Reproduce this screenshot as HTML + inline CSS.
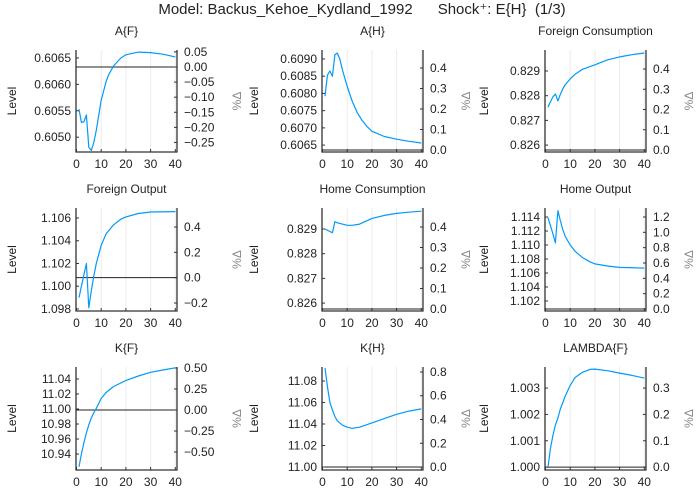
<!DOCTYPE html>
<html><head><meta charset="utf-8"><style>
html,body{margin:0;padding:0;background:#fff;}
svg{display:block;font-family:"Liberation Sans","DejaVu Sans",sans-serif;}
</style></head><body>
<svg id="chart" width="700" height="500" viewBox="0 0 700 500" xmlns="http://www.w3.org/2000/svg">
<text x="362" y="14" font-size="15" text-anchor="middle" fill="#222" style="white-space:pre" xml:space="preserve">Model: Backus_Kehoe_Kydland_1992      Shock⁺: E{H}  (1/3)</text>
</svg>
<script>
// ---- data arrays (period, level) ----
const aF_t = [1,2,3,4,5,6,7,8,10,12,13,15,18,20,25,30,35,40];
const aF_v = [0.60553,0.60528,0.60529,0.60542,0.60481,0.60475,0.60490,0.60513,0.60570,0.60605,0.60618,0.60635,0.60650,0.60656,0.60661,0.60660,0.60657,0.60652];
const aH_t = [1,2,3,4,5,6,7,8,9,10,12,14,16,18,20,25,30,35,40];
const aH_v = [0.60792,0.60853,0.60865,0.60850,0.60912,0.60917,0.60900,0.60870,0.60845,0.60820,0.60778,0.60745,0.60722,0.60704,0.60690,0.60675,0.60667,0.60661,0.60656];
const fc_t = [1,2,3,4,5,6,7,8,10,12,15,20,25,30,35,40];
const fc_v = [0.82754,0.82775,0.82795,0.82807,0.82779,0.82805,0.82828,0.82845,0.82868,0.82887,0.82907,0.82925,0.82945,0.82957,0.82966,0.82973];
const fo_t = [1,2,3,4,5,6,7,8,10,12,15,18,20,25,30,40];
const fo_v = [1.0990,1.1000,1.1010,1.1020,1.0981,1.0996,1.1009,1.1020,1.1036,1.1046,1.1054,1.1059,1.1061,1.1064,1.10653,1.10656];
const hc_t = [1,2,3,4,5,6,8,10,12,15,20,25,30,35,40];
const hc_v = [0.8290,0.82895,0.8289,0.82885,0.8293,0.82925,0.8292,0.82915,0.82915,0.8292,0.82943,0.82955,0.82963,0.82968,0.82972];
const ho_t = [1,2,3,4,5,6,7,8,10,12,15,18,20,25,30,40];
const ho_v = [1.1139,1.1128,1.1116,1.1103,1.1149,1.1135,1.1122,1.1112,1.1100,1.1091,1.1082,1.1076,1.1073,1.1070,1.1068,1.1067];
const kF_t = [1,2,3,4,5,6,7,8,10,12,15,20,25,30,35,40];
const kF_v = [10.923,10.940,10.955,10.968,10.979,10.988,10.995,11.001,11.014,11.022,11.030,11.038,11.044,11.049,11.052,11.055];
const kH_t = [1,2,3,4,5,6,8,10,12,15,20,25,30,35,40];
const kH_v = [11.092,11.075,11.060,11.053,11.047,11.043,11.039,11.037,11.036,11.037,11.041,11.045,11.049,11.052,11.054];
const lF_t = [1,2,3,4,5,6,8,10,12,15,18,20,25,30,35,40];
const lF_v = [1.0000,1.0007,1.0012,1.0016,1.00186,1.0022,1.0027,1.0031,1.0034,1.0036,1.00371,1.00372,1.00366,1.00357,1.00348,1.00338];
// ---- tick labels ----
const xTicks = [0,10,20,30,40];
const aF_lt = [0.6050,0.6055,0.6060,0.6065];
const aF_rt = [0.05,0,-0.05,-0.10,-0.15,-0.20,-0.25];
const aH_lt = [0.6065,0.6070,0.6075,0.6080,0.6085,0.6090];
const aH_rt = [0,0.1,0.2,0.3,0.4];
const fc_lt = [0.826,0.827,0.828,0.829];
const fc_rt = [0,0.1,0.2,0.3,0.4];
const fo_lt = [1.098,1.100,1.102,1.104,1.106];
const fo_rt = [-0.2,0,0.2,0.4];
const hc_lt = [0.826,0.827,0.828,0.829];
const hc_rt = [0,0.1,0.2,0.3,0.4];
const ho_lt = [1.102,1.104,1.106,1.108,1.110,1.112,1.114];
const ho_rt = [0,0.2,0.4,0.6,0.8,1.0,1.2];
const kF_lt = [10.94,10.96,10.98,11.00,11.02,11.04];
const kF_rt = [-0.50,-0.25,0,0.25,0.50];
const kH_lt = [11.00,11.02,11.04,11.06,11.08];
const kH_rt = [0,0.2,0.4,0.6,0.8];
const lF_lt = [1.000,1.001,1.002,1.003];
const lF_rt = [0,0.1,0.2,0.3];

const NS='http://www.w3.org/2000/svg';
const svg=document.getElementById('chart');
function mk(tag,attrs,parent){const e=document.createElementNS(NS,tag);for(const k in attrs)e.setAttribute(k,attrs[k]);(parent||svg).appendChild(e);return e;}
const colX=[76,322,545], rowY=[[50,152],[208,311],[367,470]];
const panels=[
 {n:'a-f',title:'A{F}',t:aF_t,v:aF_v,lt:aF_lt,rt:aF_rt,ld:[0.60472,0.60665],rd:[-0.2816,0.0563],ldec:4,rdec:2},
 {n:'a-h',title:'A{H}',t:aH_t,v:aH_v,lt:aH_lt,rt:aH_rt,ld:[0.60630,0.60926],rd:[-0.0098,0.4878],ldec:4,rdec:1},
 {n:'foreign-consumption',title:'Foreign Consumption',t:fc_t,v:fc_v,lt:fc_lt,rt:fc_rt,ld:[0.82572,0.82985],rd:[-0.0099,0.494],ldec:3,rdec:1},
 {n:'foreign-output',title:'Foreign Output',t:fo_t,v:fo_v,lt:fo_lt,rt:fo_rt,ld:[1.09782,1.10688],rd:[-0.263,0.55],ldec:3,rdec:1},
 {n:'home-consumption',title:'Home Consumption',t:hc_t,v:hc_v,lt:hc_lt,rt:hc_rt,ld:[0.82568,0.82985],rd:[-0.0098,0.4927],ldec:3,rdec:1},
 {n:'home-output',title:'Home Output',t:ho_t,v:ho_v,lt:ho_lt,rt:ho_rt,ld:[1.10057,1.11529],rd:[-0.026,1.317],ldec:3,rdec:1},
 {n:'k-f',title:'K{F}',t:kF_t,v:kF_v,lt:kF_lt,rt:kF_rt,ld:[10.9187,11.056],rd:[-0.714,0.512],ldec:2,rdec:2},
 {n:'k-h',title:'K{H}',t:kH_t,v:kH_v,lt:kH_lt,rt:kH_rt,ld:[10.9972,11.093],rd:[-0.025,0.842],ldec:2,rdec:1},
 {n:'lambda-f',title:'LAMBDA{F}',t:lF_t,v:lF_v,lt:lF_lt,rt:lF_rt,ld:[0.99989,1.0038],rd:[-0.011,0.38],ldec:3,rdec:1}
];
function fmt(v,d){const s=Math.abs(v).toFixed(d);return (v<-1e-12?'−':'')+s;}
panels.forEach((p,i)=>{
 const c=i%3,r=Math.floor(i/3);
 const x0=colX[c],xr=x0+101,top=rowY[r][0],bot=rowY[r][1];
 const g=mk('g',{});
 
 
 const X=t=>x0+0.5+t*2.47;
 const YL=v=>bot-(v-p.ld[0])/(p.ld[1]-p.ld[0])*(bot-top);
 const YR=v=>bot-(v-p.rd[0])/(p.rd[1]-p.rd[0])*(bot-top);
 xTicks.forEach(t=>{if(t>0){const l=mk('line',{x1:X(t),x2:X(t),y1:top,y2:bot,stroke:'#ebebeb','stroke-width':1},g);
  
  }});
 const tt=mk('text',{x:(x0+xr)/2,y:top-15,'font-size':12,'text-anchor':'middle',fill:'#222'},g);tt.textContent=p.title;
 
 
 mk('path',{d:`M${x0},${top}V${bot}H${xr}V${top}`,fill:'none',stroke:'#333','stroke-width':1.3},g);
 const zl=mk('line',{x1:x0,x2:xr,y1:YR(0),y2:YR(0),stroke:'#222','stroke-width':1},g);
 
 
 xTicks.forEach(t=>{
  mk('line',{x1:X(t),x2:X(t),y1:bot,y2:bot-3,stroke:'#333'},g);
  const tx=mk('text',{x:X(t),y:bot+16,'font-size':12,'text-anchor':'middle',fill:'#222'},g);tx.textContent=t;
  
  
 });
 p.lt.forEach(v=>{const y=YL(v);
  mk('line',{x1:x0,x2:x0+3,y1:y,y2:y,stroke:'#333'},g);
  const tx=mk('text',{x:x0-5,y:y+4,'font-size':12,'text-anchor':'end',fill:'#222'},g);tx.textContent=fmt(v,p.ldec);
  
  });
 p.rt.forEach(v=>{const y=YR(v);
  mk('line',{x1:xr,x2:xr-3,y1:y,y2:y,stroke:'#333'},g);
  const tx=mk('text',{x:xr+7,y:y+4,'font-size':12,'text-anchor':'start',fill:'#222'},g);tx.textContent=fmt(v,p.rdec);
  
  });
 const lx=[13,255,485][c], rx=[238,467,690][c], cy=(top+bot)/2;
 const ly=mk('text',{x:lx,y:cy,'font-size':12,'text-anchor':'middle',fill:'#222',transform:`rotate(-90 ${lx} ${cy})`,'dominant-baseline':'middle'},g);ly.textContent='Level';
 
 
 const ry=mk('text',{x:rx,y:cy,'font-size':12,'text-anchor':'middle',fill:'#888',transform:`rotate(-90 ${rx} ${cy})`,'dominant-baseline':'middle'},g);ry.textContent='%Δ';
 
 
 const d=p.t.map((t,k)=>(k?'L':'M')+X(t).toFixed(1)+','+YL(p.v[k]).toFixed(1)).join('');
 const ln=mk('path',{d:d,fill:'none',stroke:'#009AFA','stroke-width':1.2,'stroke-linejoin':'round'},g);
 
 
});
</script>
</body></html>
